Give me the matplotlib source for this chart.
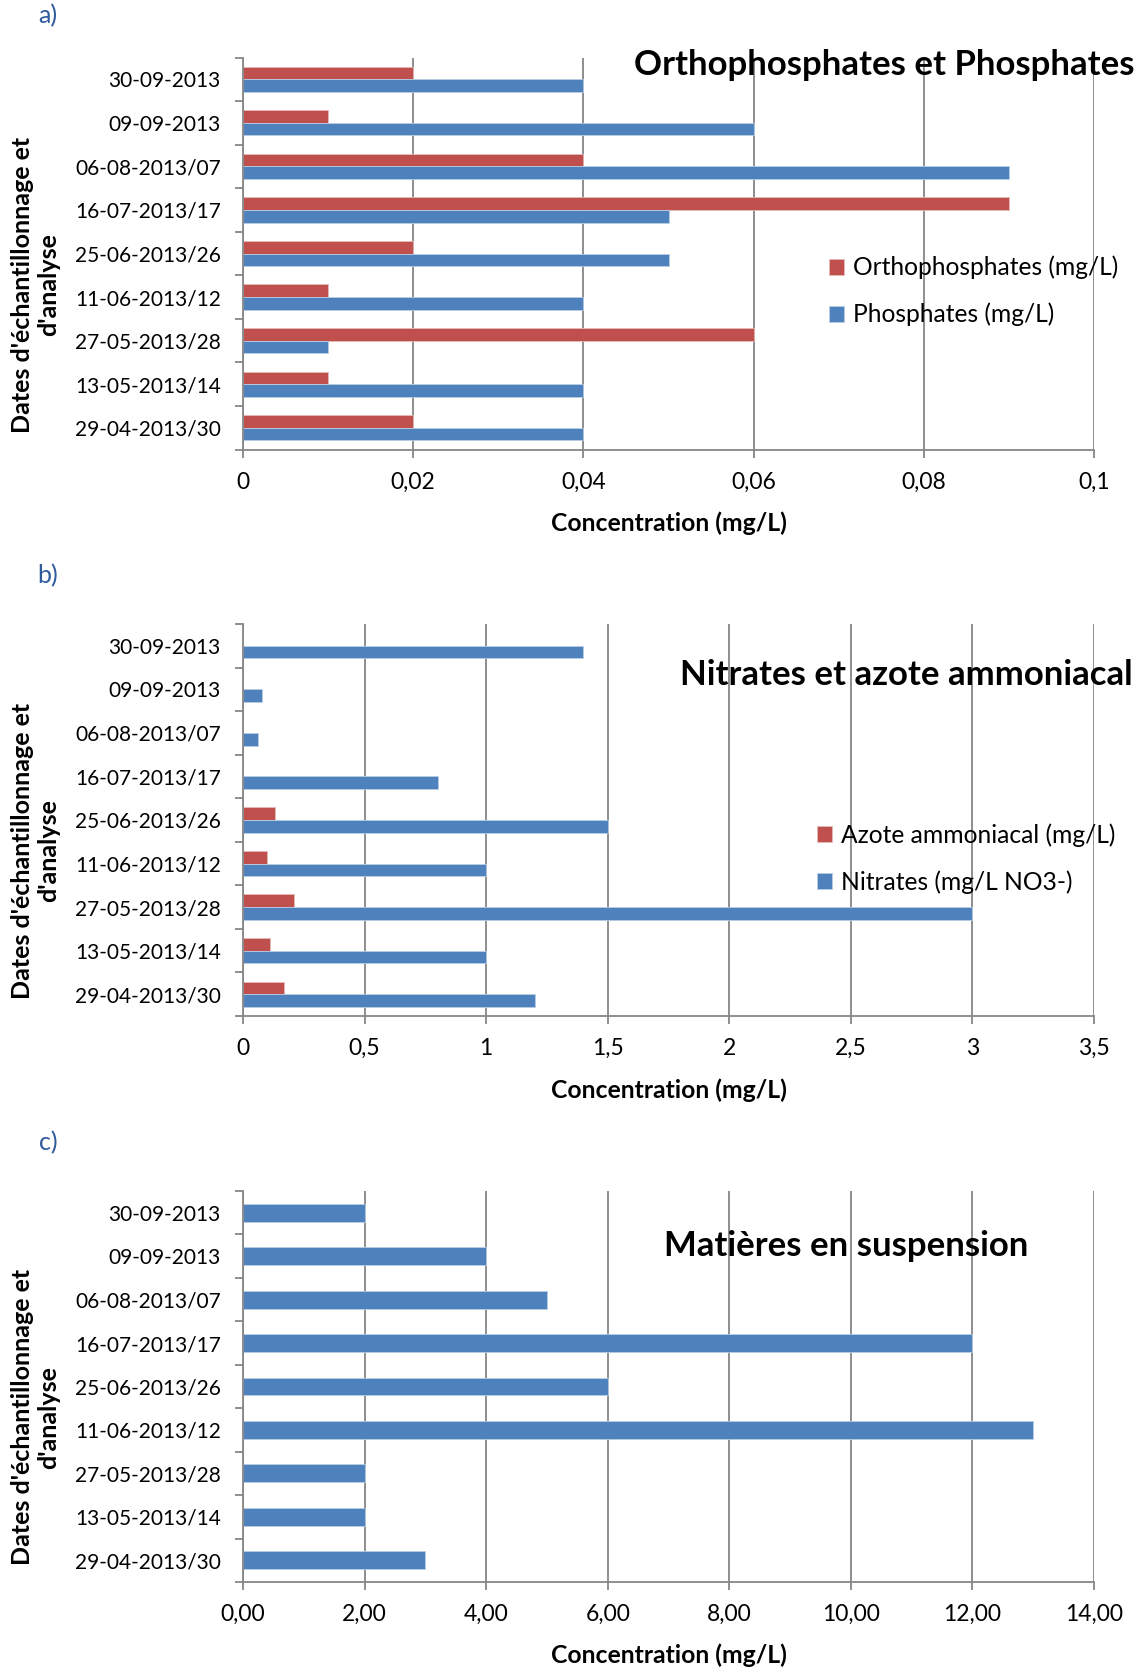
import matplotlib
matplotlib.use('Agg')
import matplotlib.pyplot as plt
from matplotlib.ticker import FixedLocator

plt.rcParams['font.family'] = ['Lato', 'DejaVu Sans']

# sampling / analysis dates, bottom to top
dates = ['29-04-2013/30', '13-05-2013/14', '27-05-2013/28', '11-06-2013/12',
         '25-06-2013/26', '16-07-2013/17', '06-08-2013/07', '09-09-2013',
         '30-09-2013']

# a) phosphates
orthophosphates = [0.02, 0.01, 0.06, 0.01, 0.02, 0.09, 0.04, 0.01, 0.02]
phosphates = [0.04, 0.04, 0.01, 0.04, 0.05, 0.05, 0.09, 0.06, 0.04]

# b) nitrogen
azote_ammoniacal = [0.17, 0.11, 0.21, 0.10, 0.13, 0, 0, 0, 0]
nitrates = [1.2, 1.0, 3.0, 1.0, 1.5, 0.8, 0.06, 0.08, 1.4]

# c) suspended matter
mes = [3, 2, 2, 13, 6, 12, 5, 4, 2]

ticks_a = [0, 0.02, 0.04, 0.06, 0.08, 0.1]
ticklabels_a = ['0', '0,02', '0,04', '0,06', '0,08', '0,1']
ticks_b = [0, 0.5, 1, 1.5, 2, 2.5, 3, 3.5]
ticklabels_b = ['0', '0,5', '1', '1,5', '2', '2,5', '3', '3,5']
ticks_c = [0, 2, 4, 6, 8, 10, 12, 14]
ticklabels_c = ['0,00', '2,00', '4,00', '6,00', '8,00', '10,00', '12,00', '14,00']

RED = '#C0504D'
BLUE = '#4F81BD'
GRAY = '#868686'
W, H = 1143, 1671


def style_axes(ax, ticks, ticklabels, title, title_xy):
    n = len(dates)
    ax.set_ylim(-0.5, n - 0.5)
    ax.set_xlim(ticks[0], ticks[-1])
    ax.set_yticks(range(n))
    ax.set_yticklabels(dates, fontsize=15)
    ax.yaxis.set_minor_locator(FixedLocator([i - 0.5 for i in range(n + 1)]))
    ax.tick_params(axis='y', which='major', length=0, pad=16)
    ax.tick_params(axis='y', which='minor', length=6, width=1.3, color=GRAY)
    ax.set_xticks(ticks)
    ax.set_xticklabels(ticklabels, fontsize=16.5)
    ax.tick_params(axis='x', length=6, width=1.3, color=GRAY, pad=10)
    ax.grid(axis='x', color=GRAY, linewidth=1.3)
    ax.set_axisbelow(True)
    for s in ['top', 'right']:
        ax.spines[s].set_visible(False)
    for s in ['left', 'bottom']:
        ax.spines[s].set_color(GRAY)
        ax.spines[s].set_linewidth(1.3)
    ax.set_xlabel('Concentration (mg/L)', fontsize=17.8, fontweight='bold')
    ax.xaxis.set_label_coords(0.5, -0.158)
    ax.text(-0.244, 0.421, "Dates d'échantillonnage et\nd'analyse", transform=ax.transAxes,
            rotation=90, ha='center', va='center', fontsize=18, fontweight='bold',
            multialignment='center', linespacing=1.15)
    ax.text(title_xy[0], title_xy[1], title, transform=ax.transAxes, ha='center',
            va='center', fontsize=25, fontweight='bold', clip_on=False, zorder=5)


def add_legend(ax, x, y):
    leg = ax.legend(loc='center left', bbox_to_anchor=(x, y), frameon=False,
                    fontsize=17.7, handlelength=0.6, handleheight=0.6,
                    handletextpad=0.35, labelspacing=0.95)
    return leg


def main():
    fig = plt.figure(figsize=(W / 100, H / 100), dpi=100)
    left = 243 / W
    width = (1094 - 243) / W
    ax_a = fig.add_axes([left, 1 - 449.5 / H, width, 392 / H])
    ax_b = fig.add_axes([left, 1 - 1016 / H, width, 392 / H])
    ax_c = fig.add_axes([left, 1 - 1582 / H, width, 391 / H])
    y = list(range(len(dates)))

    # a) orthophosphates et phosphates
    ax_a.barh([v + 0.145 for v in y], orthophosphates, height=0.29, color=RED,
              edgecolor='#E6B9B8', linewidth=0.6, label='Orthophosphates (mg/L)')
    ax_a.barh([v - 0.145 for v in y], phosphates, height=0.29, color=BLUE,
              edgecolor='#B9CDE5', linewidth=0.6, label='Phosphates (mg/L)')
    style_axes(ax_a, ticks_a, ticklabels_a, 'Orthophosphates et Phosphates', (0.754, 0.982))
    add_legend(ax_a, 0.663, 0.404)

    # b) nitrates et azote ammoniacal
    ax_b.barh([v + 0.145 for v in y], azote_ammoniacal, height=0.29, color=RED,
              edgecolor='#E6B9B8', linewidth=0.6, label='Azote ammoniacal (mg/L)')
    ax_b.barh([v - 0.145 for v in y], nitrates, height=0.29, color=BLUE,
              edgecolor='#B9CDE5', linewidth=0.6, label='Nitrates (mg/L NO3-)')
    style_axes(ax_b, ticks_b, ticklabels_b, 'Nitrates et azote ammoniacal', (0.779, 0.87))
    add_legend(ax_b, 0.649, 0.402)

    # c) matieres en suspension
    ax_c.barh(y, mes, height=0.41, color=BLUE, edgecolor='#B9CDE5', linewidth=0.6)
    style_axes(ax_c, ticks_c, ticklabels_c, 'Matières en suspension', (0.709, 0.86))

    # panel letters
    for lab, py in [('a)', 16), ('b)', 576), ('c)', 1143)]:
        fig.text(48 / W, 1 - py / H, lab, color='#2F5A9E', fontsize=18,
                 ha='center', va='center')

    fig.savefig('out.png', dpi=100)


if __name__ == "__main__":
    main()
